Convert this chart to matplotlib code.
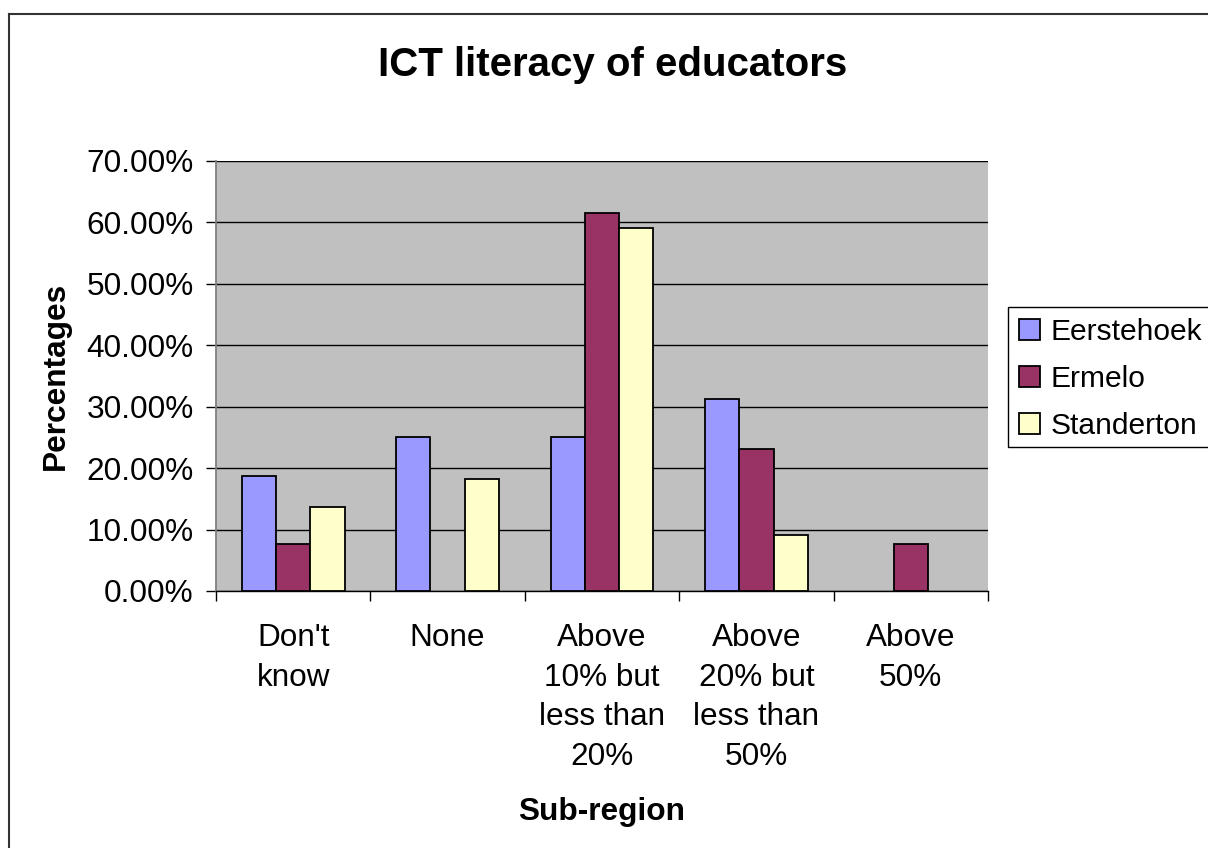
import numpy as np
import matplotlib
matplotlib.use('Agg')
import matplotlib.pyplot as plt
from matplotlib.lines import Line2D
from matplotlib.patches import Rectangle
from matplotlib.ticker import PercentFormatter

categories = ["Don't\nknow", "None", "Above\n10% but\nless than\n20%",
              "Above\n20% but\nless than\n50%", "Above\n50%"]
series = ['Eerstehoek', 'Ermelo', 'Standerton']
eerstehoek = [18.75, 25.0, 25.0, 31.25, 0.0]
ermelo = [7.69, 0.0, 61.54, 23.08, 7.69]
standerton = [13.64, 18.18, 59.09, 9.09, 0.0]
colors = ['#9999FF', '#993366', '#FFFFCC']


def main():
    plt.rcParams['font.family'] = ['Liberation Sans', 'DejaVu Sans']

    fig = plt.figure(figsize=(12.08, 8.48), dpi=100)
    W, H = 1208, 848
    # plot area in pixels: x 216..988, y 161..591
    ax = fig.add_axes([216 / W, 1 - 591 / H, (988 - 216) / W, (591 - 161) / H])
    ax.set_facecolor('#C0C0C0')

    x = np.arange(len(categories))
    w = 1 / 4.5
    for i, (vals, name) in enumerate(zip([eerstehoek, ermelo, standerton], series)):
        pos = x + (i - 1) * w
        v = np.array(vals)
        m = v > 0
        ax.bar(pos[m], v[m], width=w, color=colors[i], edgecolor='black',
               linewidth=1.3, label=name, zorder=3)

    ax.set_xlim(-0.5, len(categories) - 0.5)
    ax.set_ylim(0, 70)
    ax.set_yticks(np.arange(0, 71, 10))
    ax.yaxis.set_major_formatter(PercentFormatter(decimals=2))
    ax.grid(axis='y', color='black', linewidth=1.0, zorder=1)

    ax.set_xticks(x)
    ax.set_xticklabels(categories, linespacing=1.42)
    ax.set_xticks(np.arange(-0.5, len(categories)), minor=True)
    ax.tick_params(axis='x', which='major', length=0, pad=23, labelsize=22.7)
    ax.tick_params(axis='x', which='minor', length=7, width=1, direction='out')
    ax.tick_params(axis='y', length=7, width=1, direction='out', pad=9, labelsize=22.7)

    for s in ['top', 'right']:
        ax.spines[s].set_visible(False)
    ax.spines['left'].set_color('#808080')
    ax.spines['left'].set_linewidth(1.3)
    ax.spines['bottom'].set_linewidth(1.0)

    ax.set_ylabel('Percentages', fontsize=22.8, fontweight='bold', labelpad=11)
    ax.set_xlabel('Sub-region', fontsize=22.8, fontweight='bold', labelpad=18)
    fig.text(613 / W, 1 - 65 / H, 'ICT literacy of educators', ha='center',
             va='center', fontsize=29, fontweight='bold')

    # legend box runs past the right edge of the picture, so draw the frame by hand
    fig.add_artist(Rectangle((1008 / W, 1 - 447 / H), 240 / W, 140 / H,
                             transform=fig.transFigure, facecolor='white',
                             edgecolor='black', linewidth=1.0, zorder=4))
    handles, labels = ax.get_legend_handles_labels()
    leg = fig.legend(handles, labels, loc='upper left',
                     bbox_to_anchor=(1008 / W, 1 - 307 / H),
                     bbox_transform=fig.transFigure, fontsize=21.6, frameon=False,
                     borderaxespad=0, handlelength=0.7, handleheight=0.7,
                     handletextpad=0.33, labelspacing=0.62, borderpad=0.38)
    leg.set_zorder(5)

    # outer chart border (left and top only, the rest is cut off)
    fig.add_artist(Line2D([9 / W, 9 / W], [0, 1 - 14 / H], color='#333333',
                          linewidth=1.5, transform=fig.transFigure))
    fig.add_artist(Line2D([9 / W, 1], [1 - 14 / H, 1 - 14 / H], color='#333333',
                          linewidth=1.5, transform=fig.transFigure))

    fig.savefig('out.png', dpi=100)


if __name__ == "__main__":
    main()
